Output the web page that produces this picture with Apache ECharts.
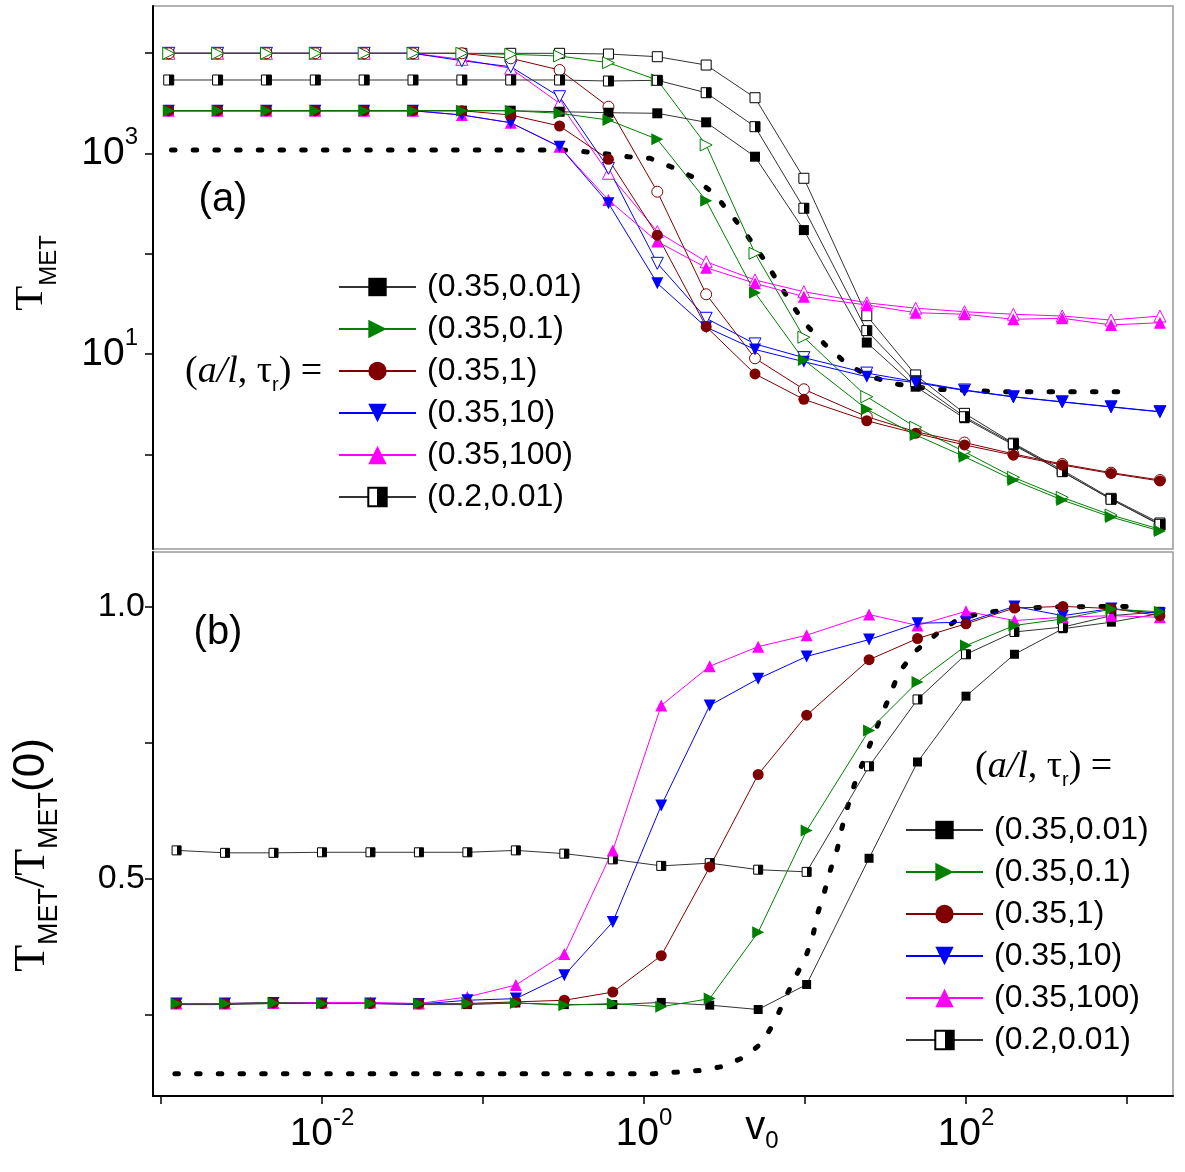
<!DOCTYPE html>
<html>
<head>
<meta charset="utf-8">
<script src="https://cdn.jsdelivr.net/npm/echarts@6.0.0/dist/echarts.min.js"></script>
<style>
  html, body { margin: 0; padding: 0; background: #fff; }
  #chart { width: 1185px; height: 1172px; }
</style>
</head>
<body>
<div id="chart"></div>
<script>
// v0 values (same for every curve)
const v0 = [0.00125, 0.0025, 0.005, 0.01, 0.02, 0.04, 0.08, 0.16, 0.32, 0.64, 1.28, 2.56, 5.12, 10.24, 25, 50, 100, 200, 400, 800, 1600]

const names = ['(0.35,0.01)', '(0.35,0.1)', '(0.35,1)', '(0.35,10)', '(0.35,100)', '(0.2,0.01)']

// panel (a): T_MET, filled = legend series, open = companion curves
const fs_a = [2665, 2665, 2665, 2665, 2665, 2665, 2665, 2665, 2604, 2545, 2512, 2042, 927, 172, 13.0, 4.72, 2.29, 1.24, 0.671, 0.356, 0.197]
const os_a = [9950, 9950, 9950, 9950, 9950, 9950, 9950, 9950, 9950, 9795, 9205, 7607, 3590, 565, 24.1, 6.18, 2.56, 1.29, 0.697, 0.364, 0.2065]
const hs_a = [5395, 5395, 5395, 5395, 5395, 5395, 5395, 5395, 5395, 5270, 5356, 4027, 1846, 284, 17.1, 5.30, 2.37, 1.27, 0.671, 0.356, 0.2005]
const fg_a = [2665, 2665, 2665, 2665, 2665, 2665, 2665, 2665, 2512, 2153, 1383, 338, 40.8, 8.71, 2.81, 1.56, 0.947, 0.554, 0.35, 0.237, 0.172]
const og_a = [9950, 9950, 9950, 9950, 9950, 9950, 9950, 9727, 9354, 8017, 5395, 1213, 101, 14.7, 3.75, 1.86, 1.06, 0.59, 0.372, 0.248, 0.179]
const fr_a = [2665, 2665, 2665, 2665, 2665, 2665, 2665, 2415, 1876, 873, 153, 18.7, 6.32, 3.53, 2.16, 1.62, 1.24, 0.98, 0.782, 0.644, 0.542]
const or_a = [9950, 9950, 9950, 9950, 9950, 9950, 9950, 8872, 6786, 2922, 415, 39.4, 9.06, 4.45, 2.37, 1.68, 1.31, 1.01, 0.80, 0.656, 0.554]
const fb_a = [2665, 2665, 2665, 2665, 2665, 2665, 2415, 2023, 1166, 318, 50.7, 18.5, 11.1, 8.38, 5.94, 5.18, 4.33, 3.73, 3.32, 2.96, 2.65]
const ob_a = [9950, 9950, 9950, 9950, 9950, 9950, 8395, 7313, 3673, 710, 80.2, 22.7, 12.6, 9.2, 6.45, 5.3, 4.38, 3.75, 3.34, 2.98, 2.66]
const fm_a = [2665, 2665, 2665, 2665, 2665, 2665, 2415, 2023, 1166, 343, 132, 72.5, 50.7, 37.3, 30.8, 25.8, 24.9, 22.2, 22.7, 19.5, 20.5]
const om_a = [9950, 9950, 9950, 9950, 9950, 9950, 8670, 7047, 3157, 634, 166, 83.2, 54.7, 41.8, 32.4, 28.6, 26.4, 24.9, 23.9, 21.8, 23.9]

// panel (a) dotted curve
const dotA_x = [0.0013, 0.336, 0.459, 0.627, 0.845, 1.153, 1.555, 2.096, 2.82, 3.64, 4.63, 5.66, 6.93, 8.44, 10.3, 13.9, 19.2, 25.8, 35.7, 48.2, 65.8, 88.7, 165.6, 1091]
const dotA_y = [1081, 1081, 1040, 986, 927, 894, 736, 586, 406, 247, 148, 93.3, 55.6, 33.2, 20.5, 12.3, 7.76, 6.04, 5.11, 4.72, 4.45, 4.38, 4.21, 4.21]

// panel (b): T_MET / T_MET(0)
const fs_b = [0.268, 0.268, 0.27, 0.27, 0.27, 0.268, 0.268, 0.271, 0.268, 0.268, 0.272, 0.267, 0.259, 0.305, 0.537, 0.714, 0.835, 0.912, 0.959, 0.971, 0.987]
const fg_b = [0.27, 0.27, 0.271, 0.27, 0.27, 0.27, 0.27, 0.271, 0.267, 0.27, 0.264, 0.279, 0.401, 0.588, 0.772, 0.861, 0.928, 0.965, 0.977, 0.995, 0.99]
const fr_b = [0.27, 0.27, 0.271, 0.27, 0.27, 0.27, 0.27, 0.273, 0.276, 0.291, 0.358, 0.521, 0.691, 0.80, 0.902, 0.941, 0.968, 0.997, 1.0, 0.996, 0.983]
const fb_b = [0.27, 0.27, 0.271, 0.27, 0.27, 0.269, 0.276, 0.279, 0.322, 0.42, 0.634, 0.818, 0.867, 0.908, 0.939, 0.969, 0.971, 1.0, 0.983, 0.996, 0.987]
const fm_b = [0.27, 0.27, 0.271, 0.272, 0.272, 0.27, 0.282, 0.304, 0.361, 0.5515, 0.818, 0.89, 0.926, 0.947, 0.985, 0.965, 0.991, 0.974, 0.98, 0.983, 0.98]
const hs_b = [0.5515, 0.547, 0.547, 0.548, 0.548, 0.548, 0.548, 0.5515, 0.5455, 0.535, 0.523, 0.528, 0.516, 0.512, 0.706, 0.829, 0.912, 0.953, 0.962, 0.983, 0.99]

// panel (b) dotted curve
const dotB_x = [0.00122, 1.153, 1.636, 2.26, 3.05, 4.18, 5.38, 6.47, 7.51, 8.73, 10.1, 11.2, 12.0, 13.2, 14.4, 15.9, 17.1, 18.5, 20.5, 23.1, 26.2, 29.7, 33.7, 38.1, 47.7, 66.1, 86.9, 123, 229, 310, 1084]
const dotB_y = [0.141, 0.141, 0.144, 0.147, 0.154, 0.171, 0.197, 0.236, 0.279, 0.319, 0.355, 0.395, 0.436, 0.475, 0.516, 0.555, 0.597, 0.634, 0.677, 0.716, 0.757, 0.798, 0.836, 0.877, 0.916, 0.950, 0.974, 0.988, 0.996, 0.999, 1.0]

// ticks
const xTicks = [1e-3, 1e-2, 1e-1, 1, 10, 100, 1000]
const xLabels = [1e-2, 1, 100]
const yTicksA = [1, 10, 100, 1000, 10000]
const yLabelsA = [10, 1000]
const yTicksB = [0.25, 0.5, 0.75, 1.0]
const yLabelsB = [0.5, 1.0]

const SANS = 'Liberation Sans, Arial, Helvetica, sans-serif'
const SERIF = 'Liberation Serif, Times New Roman, serif'

const BLACK = '#000', LINE_BLACK = '#333', GREEN = '#008000', RED = '#800000', BLUE = '#0000ff', MAGENTA = '#ff00ff'
const RIGHT = 'path://M0,0L10,5L0,10Z'
const DOWN = 'path://M0,0L10,0L5,10Z'
const halfFill = {
  type: 'linear', x: 0, y: 0, x2: 1, y2: 0,
  colorStops: [{offset: 0, color: '#fff'}, {offset: 0.5, color: '#fff'}, {offset: 0.5, color: '#000'}, {offset: 1, color: '#000'}]
}

const pairs = (xs, ys) => xs.map((x, i) => [x, ys[i]])

function curve(name, idx, ys, color, symbol, size, fill) {
  const open = fill !== color
  return {
    name: name, type: 'line', xAxisIndex: idx, yAxisIndex: idx,
    data: pairs(v0, ys),
    symbol: symbol, symbolSize: size,
    lineStyle: {color: color === BLACK ? LINE_BLACK : color, width: 1},
    itemStyle: {color: fill, borderColor: color, borderWidth: open ? 1 : 0},
    emphasis: {disabled: true},
    animation: false
  }
}

function dotted(idx, xs, ys) {
  return {
    name: 'dotted' + idx, type: 'line', xAxisIndex: idx, yAxisIndex: idx,
    data: pairs(xs, ys), symbol: 'none',
    lineStyle: {color: '#000', width: 5, type: [3.5, 18.2], cap: 'round'},
    emphasis: {disabled: true}, z: 1
  }
}

const powLabel = v => '{b|10}{s|' + Math.round(Math.log10(v)) + '}'
const powRich = {
  b: {fontSize: 39, fontFamily: SANS, color: '#000', lineHeight: 56},
  s: {fontSize: 24, fontFamily: SANS, color: '#000', lineHeight: 24, verticalAlign: 'top'}
}

const legendBase = {
  data: names, orient: 'vertical', itemWidth: 77, itemHeight: 23, itemGap: 10,
  selectedMode: false,
  textStyle: {fontSize: 32, fontFamily: SANS, color: '#000', lineHeight: 32, padding: [0, 0, 0, 6]}
}

const ratioRich = {
  p: {fontFamily: SERIF, fontSize: 38, lineHeight: 46, color: '#000'},
  i: {fontFamily: SERIF, fontSize: 38, lineHeight: 46, fontStyle: 'italic', color: '#000'},
  r: {fontFamily: SANS, fontSize: 20, lineHeight: 16, verticalAlign: 'bottom', color: '#000'}
}
const ratioText = '{p|(}{i|a/l}{p|, τ}{r|r}{p|) =}'

const titleRich = {
  t: {fontFamily: SERIF, fontSize: 41, lineHeight: 60, color: '#000'},
  m: {fontFamily: SANS, fontSize: 24, lineHeight: 14, verticalAlign: 'bottom', color: '#000'}
}
const titleRichB = {
  t: {fontFamily: SERIF, fontSize: 44, lineHeight: 62, color: '#000'},
  m: {fontFamily: SANS, fontSize: 27, lineHeight: 15, verticalAlign: 'bottom', color: '#000'},
  z: {fontFamily: SANS, fontSize: 44, lineHeight: 62, color: '#000'}
}

const chart = echarts.init(document.getElementById('chart'), null, {renderer: 'canvas'})

chart.setOption({
  animation: false,
  backgroundColor: '#fff',
  grid: [
    {left: 153, top: 6, width: 1020, height: 543, show: true, borderColor: '#9a9a9a', borderWidth: 1.5},
    {left: 153, top: 552, width: 1020, height: 544, show: true, borderColor: '#9a9a9a', borderWidth: 1.5}
  ],
  xAxis: [
    {type: 'log', gridIndex: 0, min: 0.001, max: 1926,
      axisLine: {show: false}, axisTick: {show: false}, axisLabel: {show: false}, splitLine: {show: false}},
    {type: 'log', gridIndex: 1, min: 0.000892, max: 1931,
      axisLine: {show: true, lineStyle: {color: '#000', width: 2}},
      axisTick: {show: true, customValues: xTicks, length: 8, lineStyle: {color: '#000', width: 1.5}},
      axisLabel: {show: true, customValues: xLabels, formatter: powLabel, margin: 10, rich: powRich},
      splitLine: {show: false}}
  ],
  yAxis: [
    {type: 'log', gridIndex: 0, min: 0.1137, max: 29490,
      axisLine: {show: true, lineStyle: {color: '#000', width: 2}},
      axisTick: {show: true, customValues: yTicksA, length: 8, lineStyle: {color: '#000', width: 1.5}},
      axisLabel: {show: true, customValues: yLabelsA, formatter: powLabel, margin: 15, rich: powRich},
      splitLine: {show: false}},
    {type: 'value', gridIndex: 1, min: 0.1, max: 1.1,
      axisLine: {show: true, lineStyle: {color: '#000', width: 2}},
      axisTick: {show: true, customValues: yTicksB, length: 8, lineStyle: {color: '#000', width: 1.5}},
      axisLabel: {show: true, customValues: yLabelsB, formatter: v => v.toFixed(1), margin: 8,
        fontSize: 34, fontFamily: SANS, color: '#000'},
      splitLine: {show: false}}
  ],
  legend: [
    Object.assign({left: 333, top: 266}, legendBase),
    Object.assign({left: 900, top: 809}, legendBase)
  ],
  graphic: [
    {type: 'text', x: 223, y: 200, style: {text: '(a)', fontSize: 40, fontFamily: SANS, fill: '#000',
      align: 'center', verticalAlign: 'middle', textAlign: 'center', textVerticalAlign: 'middle'}},
    {type: 'text', x: 218, y: 633, style: {text: '(b)', fontSize: 40, fontFamily: SANS, fill: '#000',
      align: 'center', verticalAlign: 'middle', textAlign: 'center', textVerticalAlign: 'middle'}},
    {type: 'text', x: 185, y: 372, style: {text: ratioText, rich: ratioRich, fill: '#000',
      align: 'left', verticalAlign: 'middle', textAlign: 'left', textVerticalAlign: 'middle'}},
    {type: 'text', x: 975, y: 767, style: {text: ratioText, rich: ratioRich, fill: '#000',
      align: 'left', verticalAlign: 'middle', textAlign: 'left', textVerticalAlign: 'middle'}},
    // y title (a)
    {type: 'text', x: 31, y: 273, rotation: Math.PI / 2, style: {
      text: '{t|T}{m|MET}', fill: '#000', rich: titleRich,
      align: 'center', verticalAlign: 'middle', textAlign: 'center', textVerticalAlign: 'middle'}},
    // y title (b)
    {type: 'text', x: 32, y: 855, rotation: Math.PI / 2, style: {
      text: '{t|T}{m|MET}{t|/T}{m|MET}{z|(0)}', fill: '#000', rich: titleRichB,
      align: 'center', verticalAlign: 'middle', textAlign: 'center', textVerticalAlign: 'middle'}},
    // x title
    {type: 'text', x: 762, y: 1128, style: {
      text: '{v|v}{z|0}', fill: '#000',
      rich: {v: {fontFamily: SANS, fontSize: 40, lineHeight: 50, color: '#000'},
        z: {fontFamily: SANS, fontSize: 24, lineHeight: 14, verticalAlign: 'bottom', color: '#000'}},
      align: 'center', verticalAlign: 'middle', textAlign: 'center', textVerticalAlign: 'middle'}}
  ],
  series: [
    dotted(0, dotA_x, dotA_y),
    curve('open0', 0, os_a, BLACK, 'rect', 10, '#fff'),
    curve('open4', 0, om_a, MAGENTA, 'triangle', 12, '#fff'),
    curve('open3', 0, ob_a, BLUE, DOWN, 12, '#fff'),
    curve('open2', 0, or_a, RED, 'circle', 11, '#fff'),
    curve('open1', 0, og_a, GREEN, RIGHT, 12, '#fff'),
    curve(names[0], 0, fs_a, BLACK, 'rect', 10, BLACK),
    curve(names[5], 0, hs_a, BLACK, 'rect', 10, halfFill),
    curve(names[4], 0, fm_a, MAGENTA, 'triangle', 12, MAGENTA),
    curve(names[3], 0, fb_a, BLUE, DOWN, 12, BLUE),
    curve(names[2], 0, fr_a, RED, 'circle', 11, RED),
    curve(names[1], 0, fg_a, GREEN, RIGHT, 12, GREEN),

    dotted(1, dotB_x, dotB_y),
    curve(names[0], 1, fs_b, BLACK, 'rect', 9, BLACK),
    curve(names[5], 1, hs_b, BLACK, 'rect', 9, halfFill),
    curve(names[4], 1, fm_b, MAGENTA, 'triangle', 12, MAGENTA),
    curve(names[3], 1, fb_b, BLUE, DOWN, 12, BLUE),
    curve(names[2], 1, fr_b, RED, 'circle', 11, RED),
    curve(names[1], 1, fg_b, GREEN, RIGHT, 12, GREEN)
  ]
})
</script>
</body>
</html>
